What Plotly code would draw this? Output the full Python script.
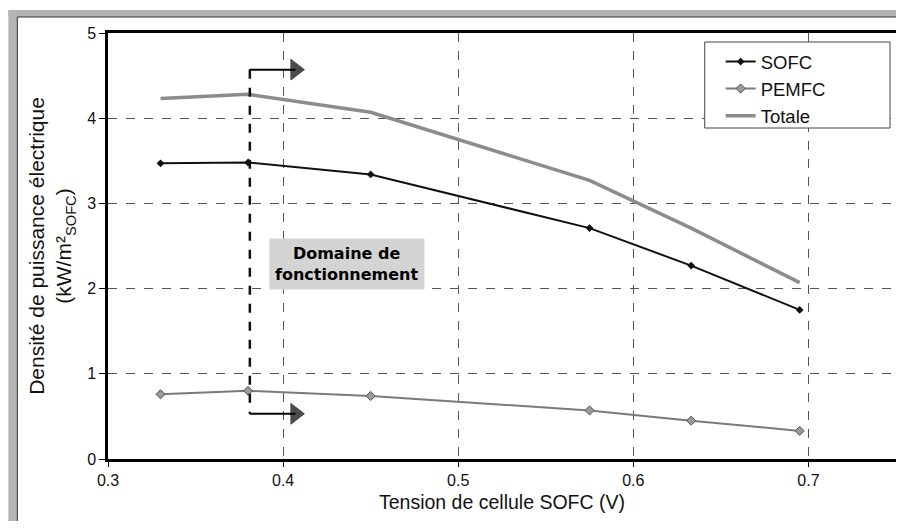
import plotly.graph_objects as go

tension = [0.33, 0.38, 0.45, 0.575, 0.633, 0.695]
sofc = [3.47, 3.48, 3.34, 2.71, 2.27, 1.75]
pemfc = [0.76, 0.80, 0.74, 0.57, 0.45, 0.33]
totale = [4.23, 4.28, 4.07, 3.27, 2.71, 2.07]

x_ticks = [0.3, 0.4, 0.5, 0.6, 0.7]
y_ticks = [0, 1, 2, 3, 4, 5]

domaine_x = 0.381
arrow_end_x = 0.407
arrow_top_y = 4.57
arrow_bot_y = 0.53

fig = go.Figure()
fig.add_trace(go.Scatter(x=tension, y=sofc, name="SOFC", mode="lines+markers",
                         line=dict(color="#111111", width=2),
                         marker=dict(symbol="diamond", size=6, color="#111111")))
fig.add_trace(go.Scatter(x=tension, y=pemfc, name="PEMFC", mode="lines+markers",
                         line=dict(color="#7a7a7a", width=2),
                         marker=dict(symbol="diamond", size=7, color="#9a9a9a",
                                     line=dict(color="#555", width=1))))
fig.add_trace(go.Scatter(x=tension, y=totale, name="Totale", mode="lines",
                         line=dict(color="#8c8c8c", width=3.5)))

# operating domain dashed line
fig.add_trace(go.Scatter(x=[domaine_x, domaine_x], y=[arrow_top_y, arrow_bot_y], mode="lines",
                         line=dict(color="#111", width=2.5, dash="dash"), showlegend=False,
                         hoverinfo="skip"))
for yy in (arrow_top_y, arrow_bot_y):
    fig.add_trace(go.Scatter(x=[domaine_x, arrow_end_x], y=[yy, yy], mode="lines+markers",
                             line=dict(color="#000", width=2),
                             marker=dict(symbol=["line-ns", "triangle-right"], size=[1, 18],
                                         color="#000", line=dict(width=1, color="#000")),
                             showlegend=False, hoverinfo="skip"))

fig.add_annotation(x=0.4367, y=2.29, xref="x", yref="y", showarrow=False,
                   text="<b>Domaine de<br>fonctionnement</b>",
                   font=dict(family="DejaVu Sans", size=16, color="#000"),
                   bgcolor="#d4d4d4", borderpad=5)

# layout geometry (figure is drawn inside the page's 8px body margin)
FW, FH, L, R, T, B = 896, 513, 100, 5, 25, 62
pw, ph = FW - L - R, FH - T - B
def px(fx):
    return (fx - L) / pw
def py(fy):
    return (FH - B - fy) / ph

# scanned page border
fig.add_shape(type="rect", xref="paper", yref="paper", x0=px(0), x1=px(9), y0=py(FH), y1=py(2),
              fillcolor="#b4b4b4", line=dict(width=0), layer="above")
fig.add_shape(type="rect", xref="paper", yref="paper", x0=px(0), x1=px(FW), y0=py(9), y1=py(2),
              fillcolor="#b4b4b4", line=dict(width=0), layer="above")
fig.add_shape(type="line", xref="paper", yref="paper", x0=px(9), x1=px(9), y0=py(FH), y1=py(9),
              line=dict(color="#333", width=1))
fig.add_shape(type="line", xref="paper", yref="paper", x0=px(9), x1=px(FW), y0=py(9), y1=py(9),
              line=dict(color="#333", width=1))

# legend box
fig.add_shape(type="rect", xref="paper", yref="paper", x0=px(699), x1=px(885), y0=py(120), y1=py(34),
              fillcolor="white", line=dict(color="#444", width=1), layer="above")

fig.update_layout(
    width=FW, height=FH,
    margin=dict(l=L, r=R, t=T, b=B),
    paper_bgcolor="white", plot_bgcolor="white",
    font=dict(family="Liberation Sans", size=16, color="#111"),
    showlegend=True,
    legend=dict(x=px(715), y=py(35), xanchor="left", yanchor="top",
                bgcolor="rgba(0,0,0,0)", borderwidth=0,
                font=dict(size=18.5), tracegroupgap=0, itemwidth=30),
    xaxis=dict(range=[0.3, 0.75], tickvals=x_ticks, ticktext=[str(v) for v in x_ticks],
               showgrid=True, gridcolor="#555", griddash="dash", gridwidth=1,
               showline=True, linecolor="#000", linewidth=2.5, mirror=True,
               ticks="outside", ticklen=5, tickcolor="#000", zeroline=False,
               tickfont=dict(size=16),
               title=dict(text="Tension de cellule SOFC (V)", font=dict(size=19.5), standoff=8)),
    yaxis=dict(range=[0, 5], tickvals=y_ticks,
               showgrid=True, gridcolor="#555", griddash="dash", gridwidth=1,
               showline=True, linecolor="#000", linewidth=2.5, mirror=True,
               ticks="outside", ticklen=6, tickcolor="#000", zeroline=False,
               tickfont=dict(size=16),
               title=dict(text="Densité de puissance électrique<br>(kW/m²<sub>SOFC</sub>)",
                          font=dict(size=21), standoff=10)),
)

fig.write_html("out.html")
